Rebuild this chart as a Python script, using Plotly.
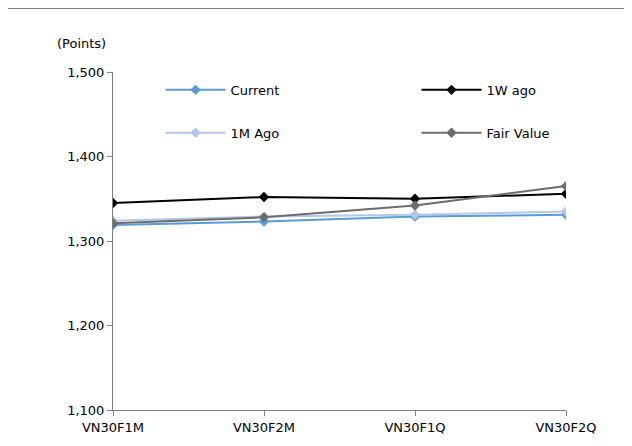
import plotly.graph_objects as go

categories = ["VN30F1M", "VN30F2M", "VN30F1Q", "VN30F2Q"]
current = [1319, 1323, 1329, 1331]
week_ago = [1345, 1352, 1350, 1356]
month_ago = [1324, 1329, 1331, 1335]
fair_value = [1321, 1328, 1342, 1365]

series = [
    ("Current", current, "#5b9bd5", "legend", 0.105, 0.947),
    ("1W ago", week_ago, "#000000", "legend2", 0.67, 0.947),
    ("1M Ago", month_ago, "#b4c7e7", "legend3", 0.105, 0.82),
    ("Fair Value", fair_value, "#6d6d6d", "legend4", 0.67, 0.82),
]

fig = go.Figure()
legends = {}
for name, vals, col, leg, lx, ly in series:
    fig.add_trace(go.Scatter(x=list(range(len(categories))), y=vals, name=name, legend=leg,
                             mode="lines+markers", line=dict(color=col, width=2),
                             marker=dict(symbol="diamond", size=8, color=col)))
    legends[leg] = dict(x=lx, y=ly, xanchor="left", yanchor="middle",
                        font=dict(size=13), bgcolor="rgba(0,0,0,0)", itemwidth=60)

fig.update_layout(
    width=632, height=446, margin=dict(l=105, r=74, t=64, b=44),
    paper_bgcolor="white", plot_bgcolor="white",
    font=dict(family="DejaVu Sans", size=13, color="black"),
    showlegend=True,
    xaxis=dict(range=[0, 3], tickvals=list(range(len(categories))), ticktext=categories,
               showgrid=False, showline=True, linecolor="#7f7f7f", ticks="outside",
               ticklen=5, tickcolor="#7f7f7f", zeroline=False),
    yaxis=dict(range=[1100, 1500], dtick=100, tickformat=",", showgrid=False,
               showline=True, linecolor="#7f7f7f", ticks="outside", ticklen=5,
               tickcolor="#7f7f7f", zeroline=False),
    shapes=[dict(type="line", xref="paper", yref="paper", x0=-0.25, x1=1.17,
                 y0=1.19, y1=1.19, line=dict(color="black", width=1.5))],
    annotations=[dict(text="(Points)", xref="paper", yref="paper", x=-0.07, y=1.055,
                      xanchor="center", yanchor="bottom", showarrow=False, font=dict(size=13))],
    **legends,
)

fig.write_html("out.html")
